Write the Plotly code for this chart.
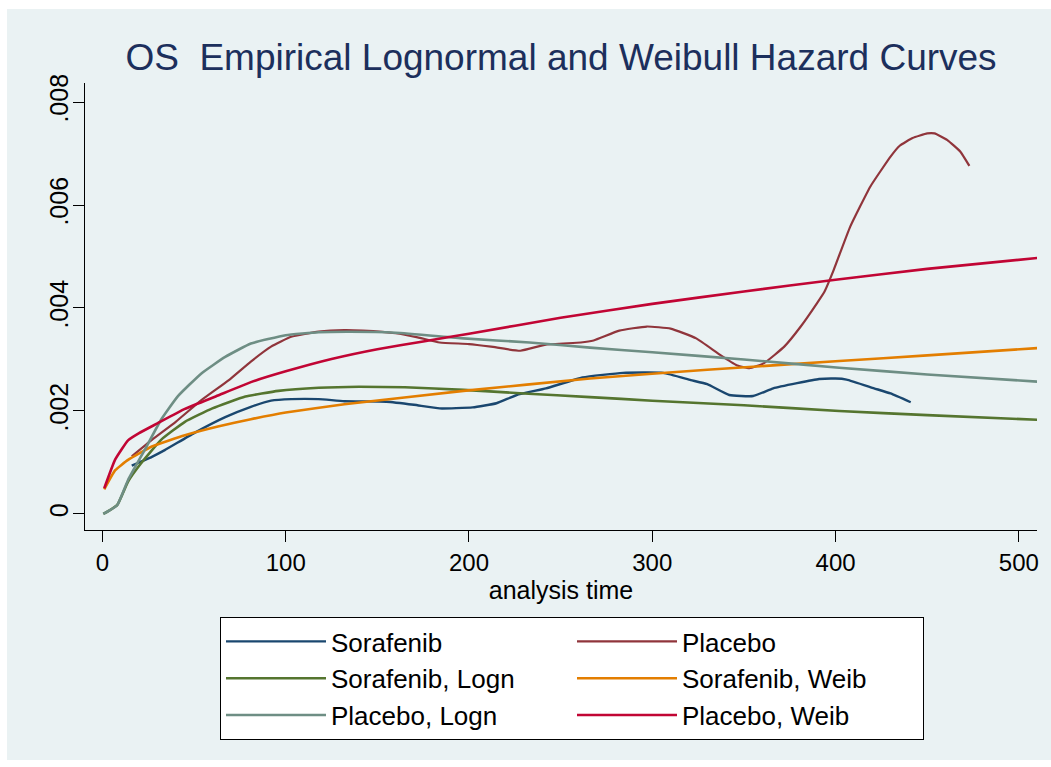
import plotly.graph_objects as go

# ---- data ----
sor_t = [16, 27, 34, 50, 67, 81, 92, 103, 118, 132, 155, 170, 184, 202, 215, 226, 242, 262,
         284, 306, 321, 330, 342, 355, 366, 379, 391, 400, 406, 421, 430, 441]
sor_h = [.00094, .00111, .00124, .00157, .00188, .00208, .00220, .00223, .00223, .00219, .00218,
         .00212, .00205, .00207, .00215, .00231, .00244, .00265, .00274, .00274, .00260, .00252,
         .00231, .00229, .00244, .00254, .00262, .00263, .00261, .00244, .00234, .00217]

pla_t = [16, 27, 40, 54, 69, 81, 92, 103, 118, 132, 142, 160, 172, 184, 200, 212, 228, 242, 261,
         268, 282, 297, 310, 324, 337, 346, 353, 361, 372, 381, 390, 394, 399, 408, 419, 430,
         435, 442, 450, 454, 461, 468, 473]
pla_h = [.00112, .00144, .00179, .00221, .00260, .00296, .00325, .00344, .00354, .00357, .00356,
         .00351, .00343, .00333, .00330, .00325, .00317, .00329, .00333, .00337, .00356, .00364,
         .00360, .00341, .00309, .00289, .00283, .00293, .00325, .00364, .00410, .00432, .00474,
         .00558, .00636, .00694, .00715, .00730, .00739, .00739, .00726, .00704, .00676]

sln_t = [0.5, 8, 14, 21, 32, 45, 60, 78, 96, 118, 140, 165, 197, 230, 266, 300, 350, 402, 450, 510]
sln_h = [0, .00017, .00063, .00098, .00144, .00179, .00205, .00228, .00239, .00245, .00247,
         .00246, .00241, .00234, .00227, .00220, .00211, .00200, .00192, .00183]

swb_t = [1, 7, 14, 27, 45, 63, 81, 100, 132, 197, 266, 330, 402, 450, 510]
swb_h = [.00048, .00085, .00105, .00131, .00153, .00170, .00184, .00197, .00213, .00239, .00263,
         .00280, .00297, .00308, .00322]

pln_t = [0.5, 8, 14, 23, 32, 41, 54, 67, 81, 100, 118, 135, 160, 197, 233, 266, 300, 350, 402,
         450, 510]
pln_h = [0, .00017, .00066, .00124, .00183, .00228, .00273, .00305, .00331, .00347, .00353,
         .00354, .00352, .00341, .00333, .00323, .00314, .00300, .00284, .00271, .00257]

pwb_t = [1, 7, 14, 20, 30, 45, 63, 81, 100, 125, 150, 175, 200, 250, 300, 350, 400, 450, 510]
pwb_h = [.00050, .00106, .00143, .00157, .00176, .00204, .00230, .00256, .00277, .00301, .00320,
         .00335, .00350, .00381, .00408, .00432, .00455, .00476, .00497]

x_ticks = [0, 100, 200, 300, 400, 500]
y_ticks = [0, .002, .004, .006, .008]
y_ticktext = ["0", ".002", ".004", ".006", ".008"]

series = [
    ("Sorafenib", sor_t, sor_h, "#1A476F", 2.4),
    ("Placebo", pla_t, pla_h, "#90353B", 2.2),
    ("Sorafenib, Logn", sln_t, sln_h, "#55752F", 2.6),
    ("Sorafenib, Weib", swb_t, swb_h, "#E37E00", 2.6),
    ("Placebo, Logn", pln_t, pln_h, "#6E8E84", 2.6),
    ("Placebo, Weib", pwb_t, pwb_h, "#C10534", 2.6),
]

FONT = "Arial, Liberation Sans, sans-serif"
BG = "#EAF2F3"

fig = go.Figure()
for name, t, h, col, w in series:
    fig.add_trace(go.Scatter(x=t, y=h, mode="lines", name=name,
                             line=dict(color=col, width=w, shape="spline", smoothing=0.4)))

L, R, T, B = 85, 14, 83, 237
W, H = 1051, 767
pw, ph = W - L - R, H - T - B

def px_x(p):
    return (p - L) / pw

def px_y(p):
    return (H - B - p) / ph

fig.add_shape(type="rect", xref="paper", yref="paper", layer="below",
              x0=px_x(7), x1=px_x(W + 5), y0=px_y(760), y1=px_y(9),
              fillcolor=BG, line=dict(width=0))

fig.update_layout(
    width=W, height=H,
    margin=dict(l=L, r=R, t=T, b=B, pad=0),
    paper_bgcolor="white", plot_bgcolor="white",
    font=dict(family=FONT, color="black", size=24),
    title=dict(text="OS  Empirical Lognormal and Weibull Hazard Curves",
               font=dict(family=FONT, size=37, color="#1C2F5C"),
               x=0.5 * (L + W - R) / W, xanchor="center",
               y=1 - 57 / H, yanchor="middle"),
    xaxis=dict(range=[-9.5, 509.9], tickvals=x_ticks, showgrid=False, zeroline=False,
               showline=True, linecolor="black", linewidth=1,
               ticks="outside", ticklen=11, tickcolor="black", tickwidth=1,
               tickfont=dict(size=24), ticklabelstandoff=0,
               title=dict(text="analysis time", font=dict(size=25), standoff=0)),
    yaxis=dict(range=[-0.000311, 0.008369], tickvals=y_ticks, ticktext=y_ticktext,
               tickangle=-90, showgrid=True, gridcolor=BG, gridwidth=2, zeroline=False,
               showline=True, linecolor="black", linewidth=1,
               ticks="outside", ticklen=11, tickcolor="black", tickwidth=1,
               tickfont=dict(size=25), ticklabelstandoff=-5),
    legend=dict(orientation="h", x=px_x(220), xanchor="left", y=px_y(617), yanchor="top",
                bgcolor="white", bordercolor="black", borderwidth=1,
                font=dict(size=26, color="black"), itemwidth=100, entrywidth=236,
                traceorder="normal"),
)

fig.write_html("out.html")
